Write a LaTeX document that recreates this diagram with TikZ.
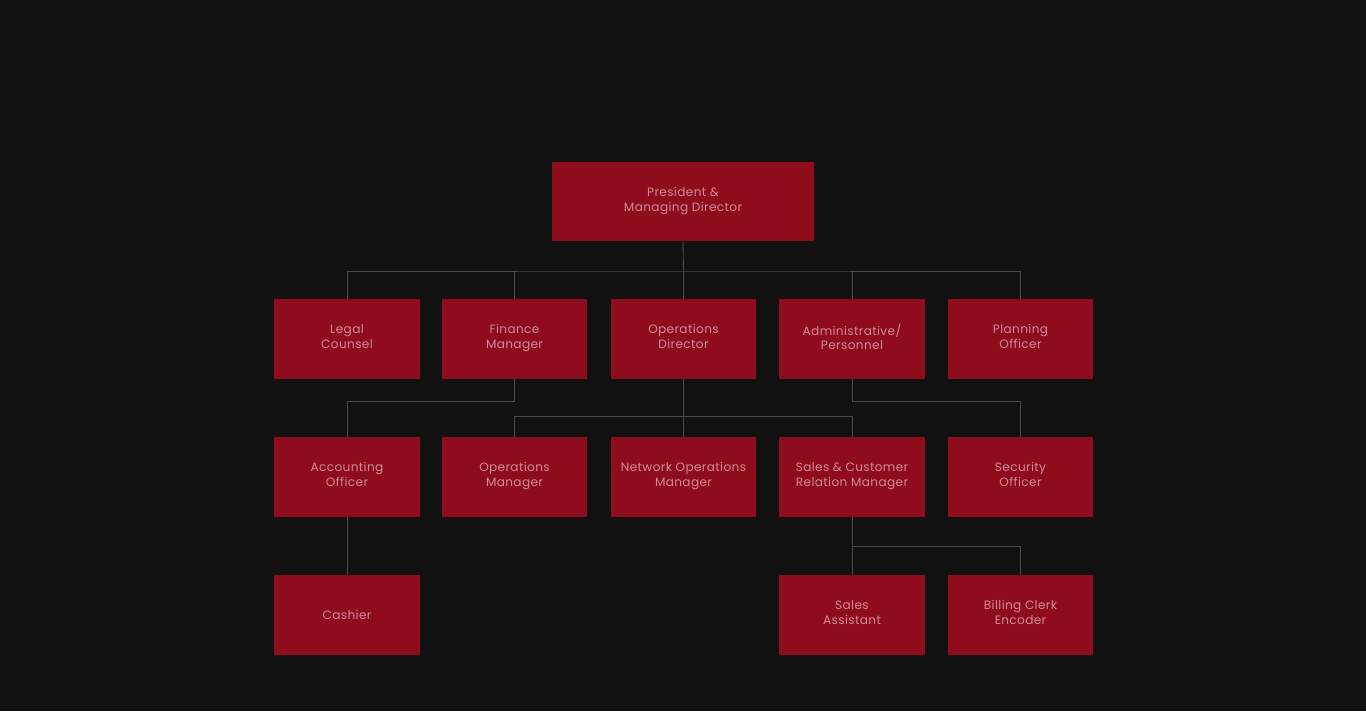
\documentclass[tikz,border=0pt]{standalone}
\usepackage{fontspec}
\setmainfont[LetterSpace=3]{Poppins}
\usepackage{xcolor}
\definecolor{BgBlack}{HTML}{111111}
\definecolor{BoxRed}{HTML}{8F0C1D}
\definecolor{TextPink}{HTML}{D08A98}
\definecolor{LineGray}{HTML}{4A4A4A}

\newcommand{\topstrut}{\rule[-2.55pt]{0pt}{10.75pt}}

\tikzset{
  post/.style={fill=BoxRed, draw=none, text=TextPink, align=center,
    minimum width=2.92cm, minimum height=1.6cm, inner sep=0pt,
    font=\fontsize{6.9pt}{8.5pt}\selectfont,
    execute at begin node=\topstrut, execute at end node=\strut},
  wire/.style={draw=LineGray, line width=0.5pt}
}

\begin{document}
\begin{tikzpicture}[x=0.02cm, y=-0.02cm]
\fill[BgBlack] (0,0) rectangle (1366,711);
\useasboundingbox (0,0) rectangle (1366,711);

% top
\node[post, minimum width=5.24cm, minimum height=1.58cm] (pres) at (683,201.5) {President \&\\Managing Director};

% first row
\node[post] (legal) at (347,339) {Legal\\Counsel};
\node[post] (fin) at (514.5,339) {Finance\\Manager};
\node[post] (opsdir) at (683.5,339) {Operations\\Director};
\node[post] (admin) at (852,339) {Administrative/\\Personnel};
\node[post] (plan) at (1020.5,339) {Planning\\Officer};

% second row
\node[post] (acct) at (347,477) {Accounting\\Officer};
\node[post] (opsman) at (514.5,477) {Operations\\Manager};
\node[post] (netops) at (683.5,477) {Network Operations\\Manager};
\node[post] (sales) at (852,477) {Sales \& Customer\\Relation Manager};
\node[post] (secur) at (1020.5,477) {Security\\Officer};

% third row
\node[post] (cash) at (347,615) {Cashier};
\node[post] (assist) at (852,615) {Sales\\Assistant};
\node[post] (bill) at (1020.5,615) {Billing Clerk\\Encoder};

% junctions
\coordinate (busA) at (683.5,271);
\coordinate (busB) at (514.5,401);
\coordinate (busC) at (683.5,416);
\coordinate (busD) at (852,401);
\coordinate (busE) at (852,546);

\begin{scope}[wire]
    \draw (pres.south) -- (busA);
    \draw (legal.north) |- (busA) -| (plan.north);
    \draw (fin.north) -- (fin.north |- busA);
    \draw (opsdir.north) -- (busA);
    \draw (admin.north) -- (admin.north |- busA);
    \draw (fin.south) -- (busB);
    \draw (busB) -| (acct.north);
    \draw (opsdir.south) -- (netops.north);
    \draw (opsman.north) |- (busC) -| (sales.north);
    \draw (admin.south) -- (busD);
    \draw (busD) -| (secur.north);
    \draw (acct.south) -- (cash.north);
    \draw (sales.south) -- (assist.north);
    \draw (busE) -| (bill.north);
\end{scope}
\end{tikzpicture}
\end{document}
